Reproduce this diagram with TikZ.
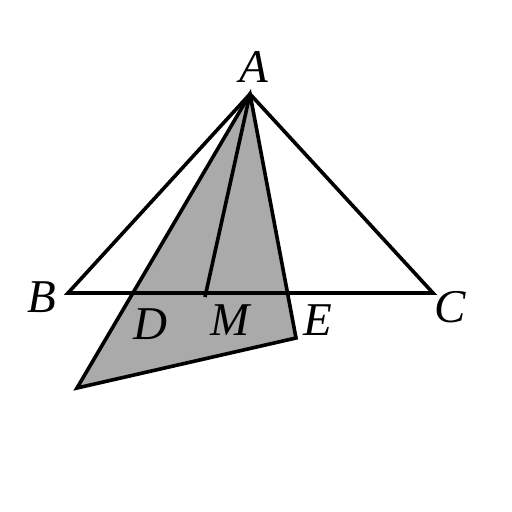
\documentclass[tikz,border=0pt]{standalone}
\usepackage{fontspec}
\setmainfont{Liberation Serif}
\begin{document}
\begin{tikzpicture}[x=1pt,y=-1pt,line width=3.6pt,line join=miter,
  lab/.style={font=\fontsize{47}{47}\selectfont\itshape,inner sep=0pt}]
\useasboundingbox (0,0) rectangle (512,512);
\coordinate (A) at (250,94);
\coordinate (B) at (68,293);
\coordinate (C) at (433,293);
\coordinate (P) at (77,388);
\coordinate (Q) at (296,338);
\coordinate (M) at (205,297);
\fill[fill={rgb,255:red,170;green,170;blue,170}] (A) -- (P) -- (Q) -- cycle;
\draw (A) -- (B) -- (C) -- cycle;
\draw (A) -- (P) -- (Q) -- cycle;
\draw (A) -- (M);
\node[lab] (lA) at (254,67) {A};
\node[lab] (lB) at (42,297) {B};
\node[lab] (lC) at (450,307) {C};
\node[lab] (lD) at (150,324) {D};
\node[lab] (lM) at (230,320) {M};
\node[lab] (lE) at (318,320) {E};
\end{tikzpicture}
\end{document}
